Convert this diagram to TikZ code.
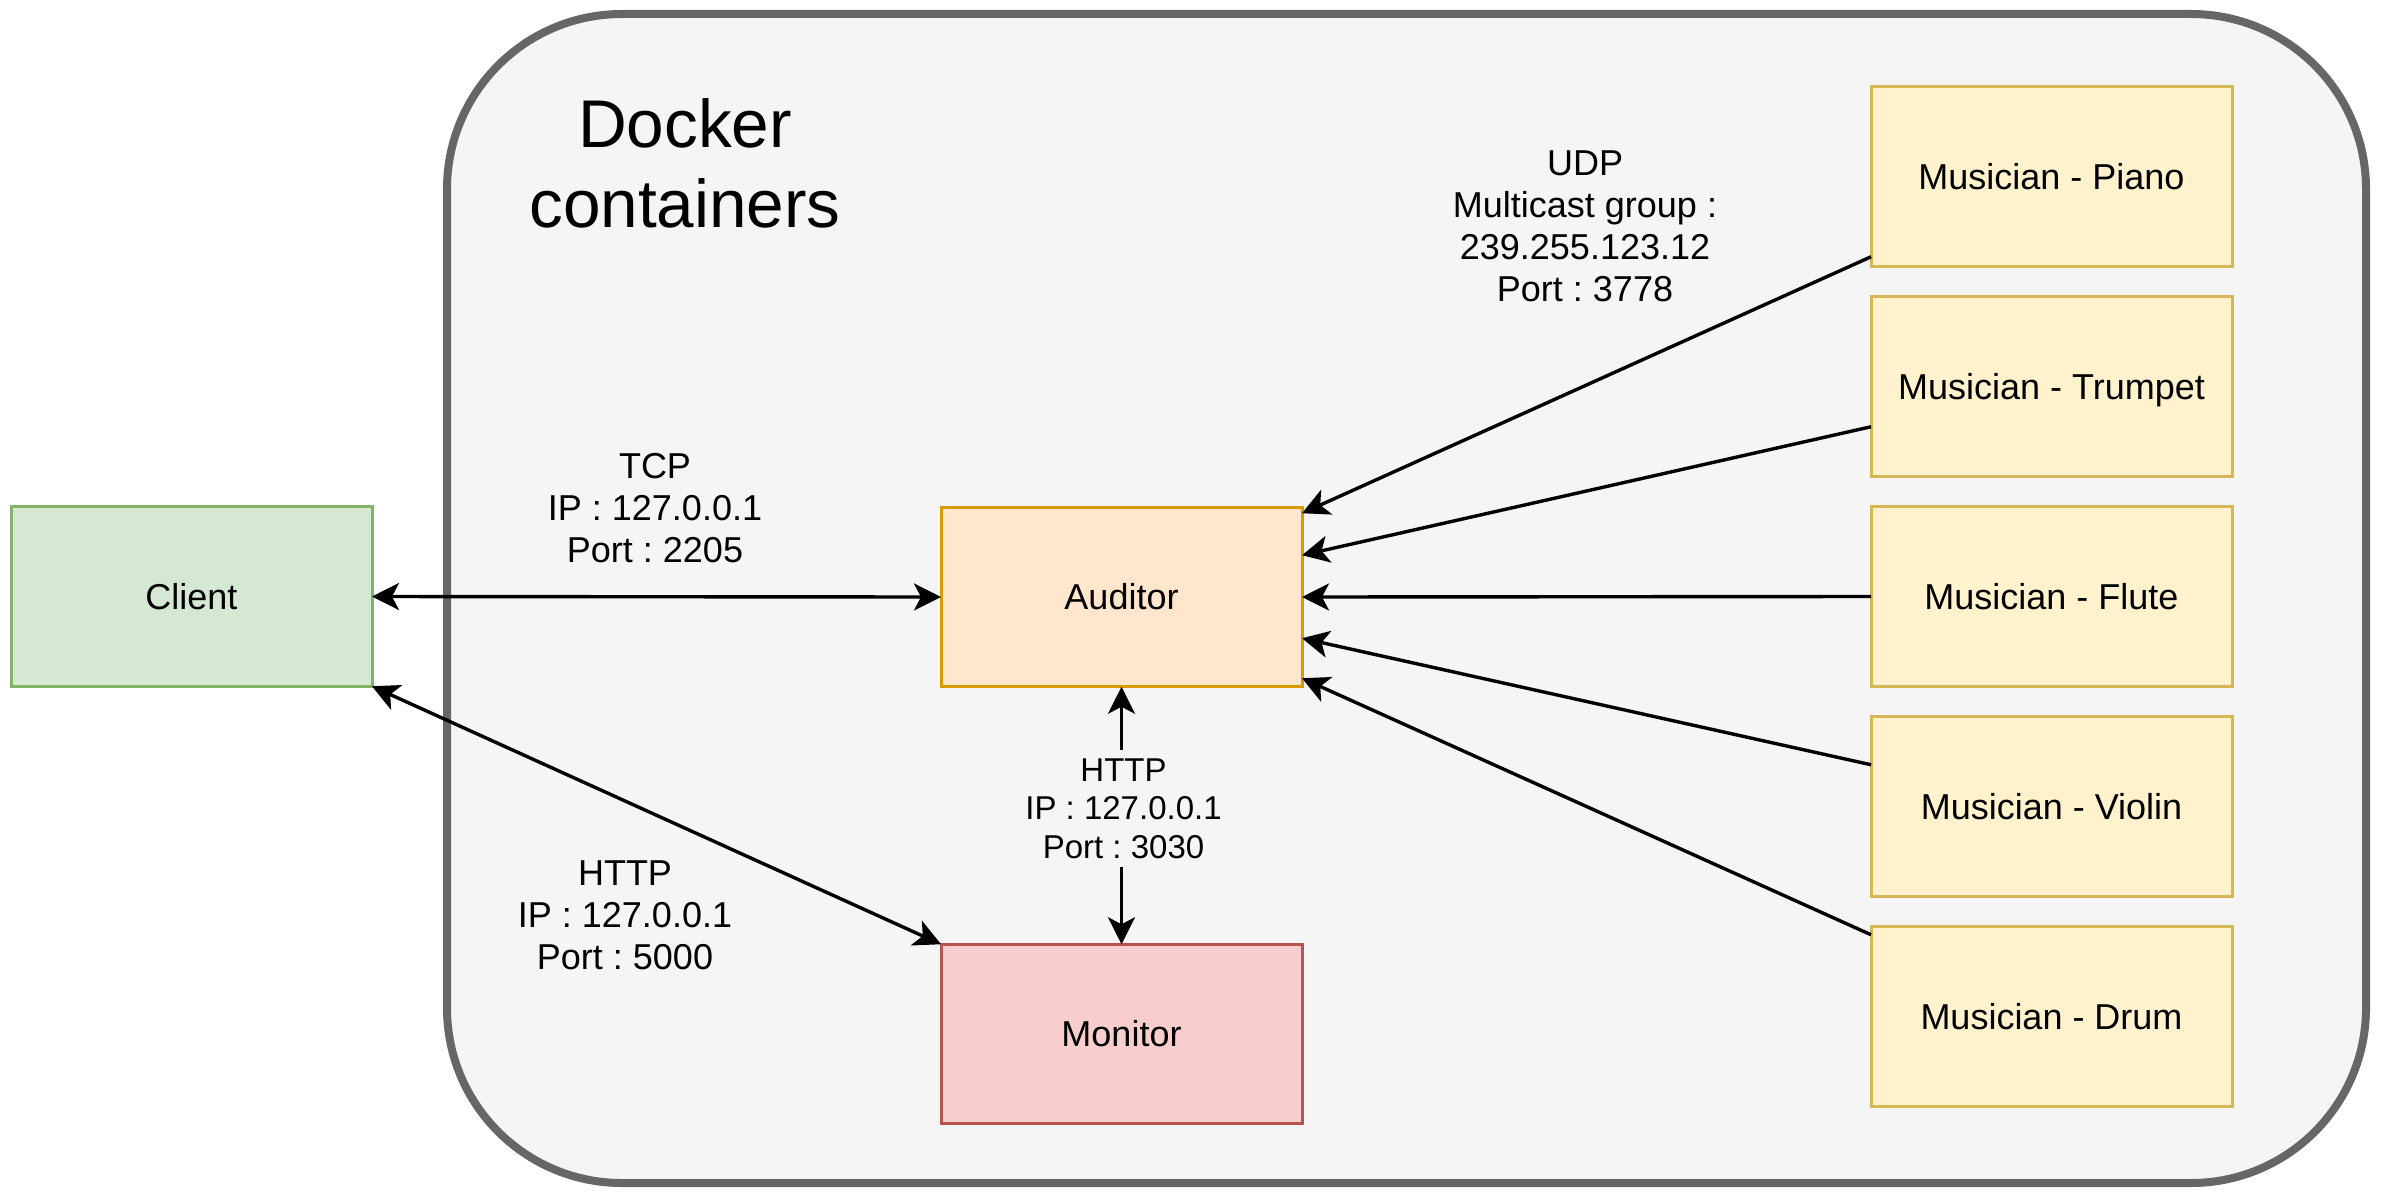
\documentclass[tikz,border=0pt]{standalone}
\usepackage{fontspec}
\setmainfont{Liberation Sans}
\usetikzlibrary{arrows.meta}
\definecolor{contfill}{HTML}{F5F5F5}
\definecolor{contdraw}{HTML}{666666}
\definecolor{clifill}{HTML}{D5E8D4}
\definecolor{clidraw}{HTML}{82B366}
\definecolor{audfill}{HTML}{FFE6CC}
\definecolor{auddraw}{HTML}{D79B00}
\definecolor{monfill}{HTML}{F8CECC}
\definecolor{mondraw}{HTML}{B85450}
\definecolor{musfill}{HTML}{FFF2CC}
\definecolor{musdraw}{HTML}{D6B656}
\frenchspacing
\begin{document}
\begin{tikzpicture}[x=1pt,y=-1pt,
  box/.style={rectangle, line width=3pt, inner sep=0pt, outer sep=0pt,
    minimum width=361pt, minimum height=179.5pt,
    font=\fontsize{36}{42}\selectfont, text height=25.8pt, text depth=0pt},
  clientbox/.style={box, fill=clifill, draw=clidraw},
  auditorbox/.style={box, fill=audfill, draw=auddraw},
  monitorbox/.style={box, fill=monfill, draw=mondraw},
  musicianbox/.style={box, fill=musfill, draw=musdraw},
  containerbox/.style={rectangle, line width=8pt, fill=contfill, draw=contdraw,
    rounded corners=175pt, minimum width=1919pt, minimum height=1169pt,
    inner sep=0pt, outer sep=0pt},
  lbl/.style={align=center, anchor=base, inner sep=0pt,
    font=\fontsize{36}{42}\selectfont},
  edgelbl/.style={align=center, fill=contfill, inner xsep=4pt, inner ysep=8pt,
    font=\fontsize{33}{38.5}\selectfont},
  conn/.style={line width=3.4pt, -{Stealth[length=27pt, width=27pt, inset=7pt]}},
  biconn/.style={line width=3.4pt, {Stealth[length=27pt, width=27pt, inset=7pt]}-{Stealth[length=27pt, width=27pt, inset=7pt]}}
]
\useasboundingbox (0,0) rectangle (2381,1199);
\fill[white] (0,0) rectangle (2381,1199);

\node[containerbox] (docker) at (1406.5,598.5) {};
\node[lbl, font=\fontsize{67.5}{80}\selectfont] (title) at (685,227) {Docker\\containers};

\node[clientbox] (cli) at (191.5,596.5) {Client};
\node[auditorbox] (aud) at (1121.5,597) {Auditor};
\node[monitorbox] (mon) at (1121.5,1034) {Monitor};

\node[musicianbox] (piano) at (2051.5,176.5) {Musician - Piano};
\node[musicianbox] (trumpet) at (2051.5,386.5) {Musician - Trumpet};
\node[musicianbox] (flute) at (2051.5,596.5) {Musician - Flute};
\node[musicianbox] (violin) at (2051.5,806.5) {Musician - Violin};
\node[musicianbox] (drum) at (2051.5,1016.5) {Musician - Drum};

\node[lbl] (udp) at (1585,301) {UDP\\Multicast group :\\239.255.123.12\\Port : 3778};
\node[lbl] (tcp) at (655,562) {TCP\\IP : 127.0.0.1\\Port : 2205};
\node[lbl] (http1) at (625,969) {HTTP\\IP : 127.0.0.1\\Port : 5000};

\draw[biconn] (cli.east) -- (aud.west);
\draw[biconn] (cli.south east) -- (mon.north west);
\draw[biconn] (aud.south) -- node[edgelbl, yshift=7pt, xshift=2pt] (http2) {HTTP\\IP : 127.0.0.1\\Port : 3030} (mon.north);

\draw[conn] ([yshift=-170pt]piano.north west) -- ([yshift=-6pt]aud.north east);
\draw[conn] ([yshift=-130pt]trumpet.north west) -- ([yshift=-48pt]aud.north east);
\draw[conn] (flute.west) -- (aud.east);
\draw[conn] ([yshift=-48pt]violin.north west) -- ([yshift=-131pt]aud.north east);
\draw[conn] ([yshift=-8pt]drum.north west) -- ([yshift=-171pt]aud.north east);
\end{tikzpicture}
\end{document}
